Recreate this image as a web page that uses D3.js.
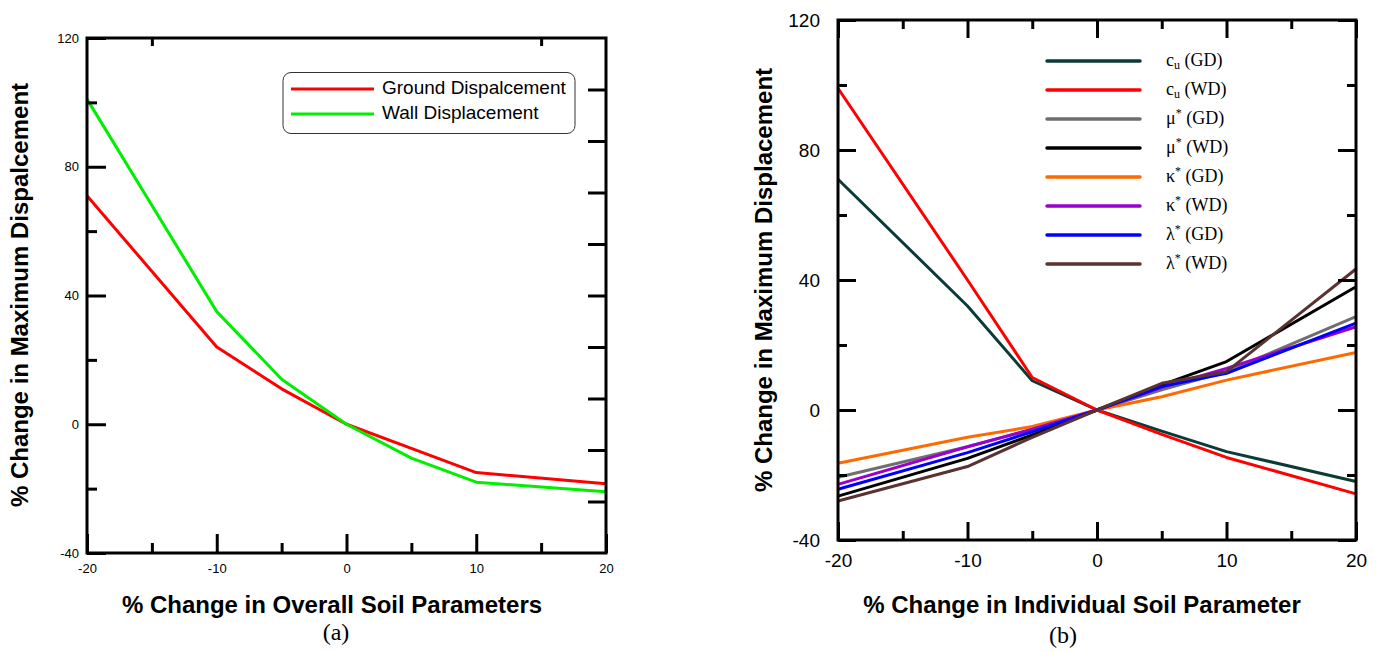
<!DOCTYPE html>
<html><head><meta charset="utf-8">
<script src="https://cdn.jsdelivr.net/npm/d3@7"></script>
<style>body{margin:0;background:#fff}</style>
</head><body>
<svg id="c" width="1379" height="652"></svg>
<script>
// ---------- Panel (a) data ----------
const xValuesA = [-20, -10, -5, 0, 5, 10, 20];
const groundDisp = [71, 24, 11, 0, -7.5, -15, -18.5];
const wallDisp = [101, 35, 14, 0, -10.5, -18, -21];
const seriesNamesA = ["Ground Dispalcement", "Wall Displacement"];
const colorsA = ["#ff0000", "#00ee00"];

// ---------- Panel (b) data ----------
const xValuesB = [-20, -10, -5, 0, 5, 10, 20];
const cuGD = [71, 32, 9, 0, -6.5, -12.8, -22];
const cuWD = [99, 40, 10, 0, -7.5, -14.6, -25.8];
const muGD = [-20.7, -11.3, -6, 0, 6.2, 11.8, 28.7];
const muWD = [-26.5, -14.9, -7.7, 0, 7.7, 14.9, 37.9];
const kaGD = [-16.4, -8.4, -5.1, 0, 4.1, 9.2, 17.7];
const kaWD = [-22.9, -11.3, -5.9, 0, 7, 12.8, 25.6];
const laGD = [-24.4, -13.1, -6.7, 0, 7.2, 11.3, 26.7];
const laWD = [-28, -17.4, -8.4, 0, 8.2, 11.8, 43.4];
const seriesSymbolsB = ["c", "c", "μ", "μ", "κ", "κ", "λ", "λ"];
const seriesIndexB = ["u", "u", "*", "*", "*", "*", "*", "*"];
const seriesTagsB = ["(GD)", "(WD)", "(GD)", "(WD)", "(GD)", "(WD)", "(GD)", "(WD)"];
const colorsB = ["#0b3b37", "#ff0000", "#6f6f6f", "#000000", "#ff6a00", "#9b00d0", "#0000ff", "#5a3232"];

// ---------- Axis ticks ----------
const yMajorTicks = [-40, 0, 40, 80, 120];
const yMinorTicks = [-20, 20, 60, 100];
const xMajorTicks = [-20, -10, 0, 10, 20];
const xMinorTicks = [-15, -5, 5, 15];
const xDomain = [-20, 20];
const yDomain = [-40, 120];

const svg = d3.select("#c");
const sans = "'Liberation Sans', Arial, sans-serif";
const serif = "'Liberation Serif', 'Times New Roman', serif";
const fmt = d => String(d);

function styleAxis(g) {
  g.select(".domain").remove();
  g.selectAll(".tick line").attr("stroke", "#000").attr("stroke-width", 3);
}

function drawPanel(cfg) {
  const x = d3.scaleLinear().domain(xDomain).range([cfg.x0, cfg.x1]);
  const y = d3.scaleLinear().domain(yDomain).range([cfg.y1, cfg.y0]);
  const g = svg.append("g");

  const line = d3.line().x(d => x(d[0])).y(d => y(d[1]));
  cfg.series.forEach((s, i) => {
    g.append("path")
      .attr("d", line(cfg.xs.map((v, j) => [v, s[j]])))
      .attr("fill", "none").attr("stroke", cfg.colors[i])
      .attr("stroke-width", 3).attr("stroke-linejoin", "round");
  });

  g.append("g").attr("transform", `translate(${cfg.x0},0)`)
    .call(d3.axisLeft(y).tickValues(yMajorTicks).tickSize(-cfg.long).tickPadding(cfg.ypad).tickFormat(fmt))
    .call(styleAxis)
    .call(a => a.selectAll("text").attr("font-family", sans).attr("font-size", cfg.fs).attr("fill", "#000"));
  g.append("g").attr("transform", `translate(${cfg.x0},0)`)
    .call(d3.axisLeft(y).tickValues(yMinorTicks).tickSize(-cfg.short).tickFormat(""))
    .call(styleAxis);
  g.append("g").attr("transform", `translate(0,${cfg.y1})`)
    .call(d3.axisBottom(x).tickValues(xMajorTicks).tickSize(-cfg.long).tickPadding(cfg.xpad).tickFormat(fmt))
    .call(styleAxis)
    .call(a => a.selectAll("text").attr("font-family", sans).attr("font-size", cfg.fs).attr("fill", "#000"));
  g.append("g").attr("transform", `translate(0,${cfg.y1})`)
    .call(d3.axisBottom(x).tickValues(xMinorTicks).tickSize(-cfg.short).tickFormat(""))
    .call(styleAxis);

  cfg.extraAxes(g, x, y);

  g.append("rect").attr("x", cfg.x0).attr("y", cfg.y0)
    .attr("width", cfg.x1 - cfg.x0).attr("height", cfg.y1 - cfg.y0)
    .attr("fill", "none").attr("stroke", "#000").attr("stroke-width", 3);

  g.append("text").attr("transform", `translate(${cfg.ytX},${cfg.ytY}) rotate(-90)`)
    .attr("text-anchor", "middle").attr("dominant-baseline", "middle")
    .attr("font-family", sans).attr("font-weight", "bold").attr("font-size", 24)
    .text(cfg.yTitle);
  g.append("text").attr("x", cfg.xtX).attr("y", cfg.xtY)
    .attr("text-anchor", "middle").attr("dominant-baseline", "middle")
    .attr("font-family", sans).attr("font-weight", "bold").attr("font-size", 24)
    .text(cfg.xTitle);
  g.append("text").attr("x", cfg.capX).attr("y", cfg.capY)
    .attr("text-anchor", "middle").attr("dominant-baseline", "middle")
    .attr("font-family", serif).attr("font-size", 24)
    .text(cfg.caption);
  return { g, x, y };
}

// ---------- Panel (a) ----------
const pa = drawPanel({
  x0: 87, x1: 606, y0: 38, y1: 553, long: 19, short: 10, fs: 13, ypad: 8, xpad: 11,
  xs: xValuesA, series: [groundDisp, wallDisp], colors: colorsA,
  yTitle: "% Change in Maximum Dispalcement", ytX: 22, ytY: 295,
  xTitle: "% Change in Overall Soil Parameters", xtX: 332, xtY: 607,
  caption: "(a)", capX: 336, capY: 634,
  extraAxes: (g, x, y) => {
    const yR = d3.scaleLinear().domain([0, 10]).range([553, 38]);
    g.append("g").attr("transform", `translate(606,0)`)
      .call(d3.axisRight(yR).tickValues(d3.range(1, 10)).tickSize(-18).tickFormat(""))
      .call(styleAxis);
    g.append("g").attr("transform", `translate(0,38)`)
      .call(d3.axisTop(x).tickValues([-15, 15]).tickSize(-8).tickFormat(""))
      .call(styleAxis);
  }
});

{
  const lg = pa.g.append("g");
  lg.append("rect").attr("x", 283).attr("y", 72.5).attr("width", 292).attr("height", 61)
    .attr("rx", 8).attr("fill", "#fff").attr("stroke", "#333").attr("stroke-width", 1);
  seriesNamesA.forEach((n, i) => {
    const yy = 89 + i * 25;
    lg.append("line").attr("x1", 291).attr("x2", 374).attr("y1", yy).attr("y2", yy)
      .attr("stroke", colorsA[i]).attr("stroke-width", 3);
    lg.append("text").attr("x", 382).attr("y", yy).attr("dominant-baseline", "middle")
      .attr("font-family", sans).attr("font-size", 19).text(n);
  });
}

// ---------- Panel (b) ----------
const pb = drawPanel({
  x0: 838, x1: 1356, y0: 20, y1: 540, long: 18, short: 9, fs: 19, ypad: 18, xpad: 14,
  xs: xValuesB, series: [cuGD, cuWD, muGD, muWD, kaGD, kaWD, laGD, laWD], colors: colorsB,
  yTitle: "% Change in Maximum Displacement", ytX: 766, ytY: 280,
  xTitle: "% Change in Individual Soil Parameter", xtX: 1082, xtY: 607,
  caption: "(b)", capX: 1063, capY: 637,
  extraAxes: (g, x, y) => {
    g.append("g").attr("transform", `translate(1356,0)`)
      .call(d3.axisRight(y).tickValues(yMajorTicks).tickSize(-18).tickFormat(""))
      .call(styleAxis);
    g.append("g").attr("transform", `translate(1356,0)`)
      .call(d3.axisRight(y).tickValues(yMinorTicks).tickSize(-9).tickFormat(""))
      .call(styleAxis);
    g.append("g").attr("transform", `translate(0,20)`)
      .call(d3.axisTop(x).tickValues(xMajorTicks).tickSize(-18).tickFormat(""))
      .call(styleAxis);
    g.append("g").attr("transform", `translate(0,20)`)
      .call(d3.axisTop(x).tickValues(xMinorTicks).tickSize(-9).tickFormat(""))
      .call(styleAxis);
  }
});

{
  const lg = pb.g.append("g");
  seriesSymbolsB.forEach((s, i) => {
    const yy = 61 + i * 29;
    lg.append("line").attr("x1", 1047).attr("x2", 1140).attr("y1", yy).attr("y2", yy)
      .attr("stroke", colorsB[i]).attr("stroke-width", 3.5).attr("stroke-linecap", "round");
    const t = lg.append("text").attr("x", 1166).attr("y", yy + 5)
      .attr("font-family", serif).attr("font-size", 18);
    t.append("tspan").text(s);
    if (seriesIndexB[i] === "u") {
      t.append("tspan").attr("font-size", 12).attr("dy", 3).text("u");
      t.append("tspan").attr("dy", -3).text(" " + seriesTagsB[i]);
    } else {
      t.append("tspan").attr("font-size", 12).attr("dy", -7).text(seriesIndexB[i]);
      t.append("tspan").attr("dy", 7).text(" " + seriesTagsB[i]);
    }
  });
}
</script>
</body></html>
